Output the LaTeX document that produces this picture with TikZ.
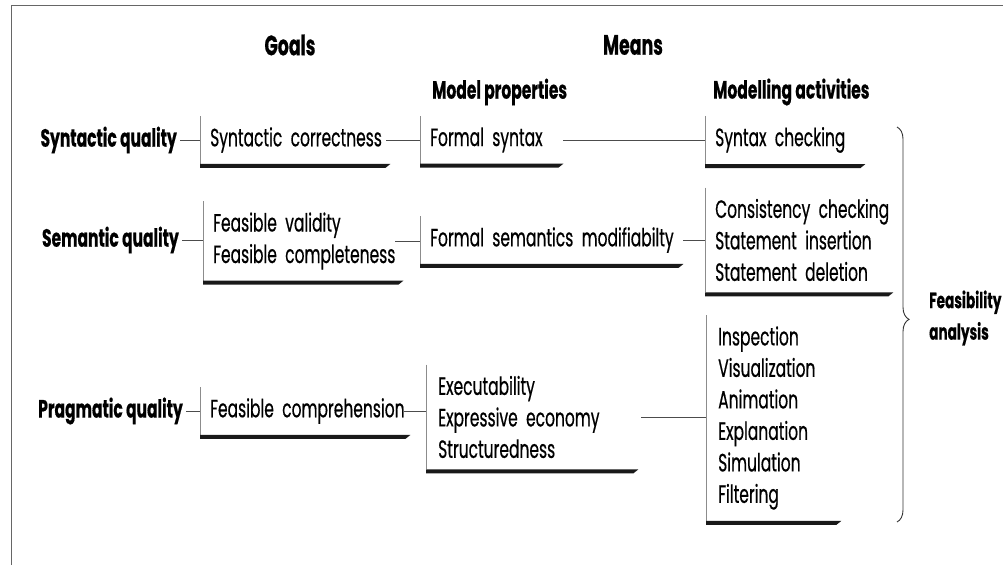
\documentclass[tikz,border=0pt]{standalone}
\usepackage{fontspec}
\setmainfont{Poppins}[FakeStretch=0.62, FakeBold=0.5]
\usetikzlibrary{decorations.pathreplacing}
\newcommand\myboxframe[1]{%
  \draw[vline] (#1.north west) -- (#1.south west);
  \fill[bline] (#1.south west) -- (#1.south east) -- ([xshift=-5pt,yshift=-4pt]#1.south east) -- ([yshift=-4pt]#1.south west) -- cycle;}
\begin{document}
\begin{tikzpicture}[x=1pt,y=-1pt,
  txt/.style={font=\fontsize{25}{31.5}\selectfont, inner sep=0pt, text=black},
  hd/.style={font=\fontsize{25}{31.5}\selectfont\bfseries, inner sep=0pt, text=black},
  big/.style={font=\fontsize{28}{31.5}\selectfont\bfseries, inner sep=0pt, text=black},
  lab/.style={hd, anchor=east, inner xsep=3pt},
  box/.style={txt, anchor=west, align=left, inner xsep=10pt, inner ysep=11pt, text width=#1,
    execute at begin node={\hyphenpenalty=10000\exhyphenpenalty=10000\hbadness=10000\hfuzz=100pt}},
  vline/.style={draw=black!45, line width=0.8pt},
  bline/.style={fill=black!90},
  conn/.style={draw=black!70, line width=0.8pt},
  frame/.style={draw=black!60, line width=1pt}]
\useasboundingbox (0,0) rectangle (1003,565);
% frame
\coordinate (f1) at (11,565);
\coordinate (f2) at (11,5);
\coordinate (f3) at (1003,5);
\draw[frame] (f1) -- (f2) -- (f3);
% headings
\node[big] (goals) at (290,45) {Goals};
\node[big] (means) at (633,45) {Means};
\node[hd, anchor=west] (mprop) at (432,92) {Model~properties};
\node[hd, anchor=west] (mact) at (713,92) {Modelling~activities};
% row labels
\node[lab] (sq) at (180,140) {Syntactic~quality};
\node[lab] (seq) at (182,240) {Semantic~quality};
\node[lab] (pq) at (186,411) {Pragmatic~quality};
% goal boxes
\node[box=170pt] (g1) at (200,140) {Syntactic~correctness};
\node[box=180pt] (g2) at (203,241) {Feasible~validity\\Feasible~completeness};
\node[box=190pt] (g3) at (200,411) {Feasible~comprehension};
% model property boxes
\node[box=123pt] (p1) at (420,140) {Formal~syntax};
\node[box=243pt] (p2) at (420,240) {Formal~semantics~modifiabilty};
\node[box=188pt, inner xsep=12pt] (p3) at (426,417) {Executability\\Expressive~economy\\Structuredness};
% modelling activity boxes
\node[box=140pt] (a1) at (705,140) {Syntax~checking};
\node[box=168pt] (a2) at (705,240) {Consistency~checking\\Statement~insertion\\Statement~deletion};
\node[box=111pt, inner xsep=12pt] (a3) at (706,418) {Inspection\\Visualization\\Animation\\Explanation\\Simulation\\Filtering};
% box frames
\myboxframe{g1}\myboxframe{g2}\myboxframe{g3}
\myboxframe{p1}\myboxframe{p2}\myboxframe{p3}
\myboxframe{a1}\myboxframe{a2}\myboxframe{a3}
% connectors
\draw[conn] (sq.east) -- (g1.west);
\draw[conn] (seq.east) -- (seq.east -| g2.west);
\draw[conn] (pq.east) -- (g3.west);
\draw[conn] ([xshift=-4pt]g1.east) -- (p1.west);
\draw[conn] ([xshift=-8pt]g2.east) -- (g2.east -| p2.west);
\draw[conn] ([xshift=-6pt]g3.east) -- (g3.east -| p3.west);
\draw[conn] (p1.east) -- (a1.west);
\draw[conn] (p2.east) -- (a2.west);
\draw[conn] ([xshift=3pt]p3.east) -- (p3.east -| a3.west);
% brace
\coordinate (bt) at (897,127);
\coordinate (bb) at (897,522);
\draw[draw=black!80, line width=0.9pt, decorate, decoration={brace, amplitude=12pt, aspect=0.487}] (bt) -- (bb);
\node[hd, font=\fontsize{22}{31.5}\selectfont\bfseries, anchor=west, align=left] (fa) at (929,318) {Feasibility\\analysis};
\end{tikzpicture}
\end{document}
